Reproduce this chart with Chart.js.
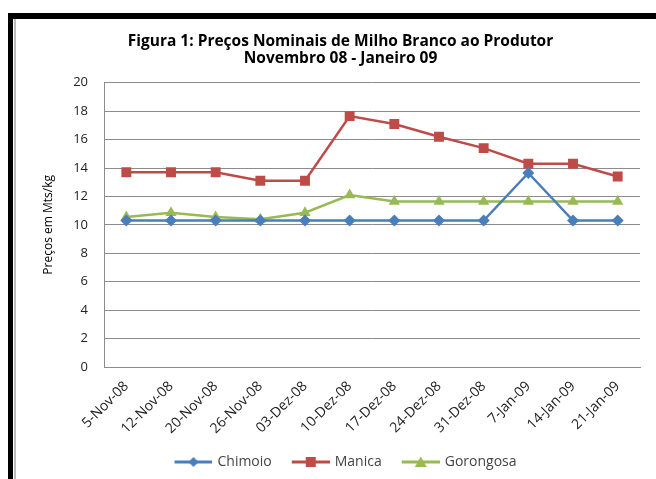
<!DOCTYPE html>
<html>
<head>
<meta charset="utf-8">
<script src="https://cdn.jsdelivr.net/npm/chart.js@4.4.0/dist/chart.umd.min.js"></script>
<style>
    html, body { margin: 0; padding: 0; background: #fff; }
    body { width: 656px; height: 479px; position: relative; overflow: hidden; }
    .frameTop { position: absolute; left: 8px; top: 13px; width: 648px; height: 6px; background: #000; }
    .frameLeft { position: absolute; left: 8px; top: 13px; width: 5px; height: 466px; background: #000; }
    .frameGrey { position: absolute; left: 14px; top: 19px; width: 2px; height: 460px; background: #bbb; }
    #wrap { position: absolute; left: 17px; top: 19px; width: 639px; height: 460px; }
</style>
</head>
<body>
<div class="frameTop"></div>
<div class="frameLeft"></div>
<div class="frameGrey"></div>
<div id="wrap"><canvas id="chartPrecos"></canvas></div>
<script>
// Preços nominais de milho branco ao produtor (Mts/kg)
const datas = ['5-Nov-08', '12-Nov-08', '20-Nov-08', '26-Nov-08', '03-Dez-08', '10-Dez-08',
               '17-Dez-08', '24-Dez-08', '31-Dez-08', '7-Jan-09', '14-Jan-09', '21-Jan-09'];
const chimoio   = [10.3, 10.3, 10.3, 10.3, 10.3, 10.3, 10.3, 10.3, 10.3, 13.65, 10.3, 10.3];
const manica    = [13.7, 13.7, 13.7, 13.1, 13.1, 17.65, 17.1, 16.2, 15.4, 14.3, 14.3, 13.4];
const gorongosa = [10.55, 10.85, 10.55, 10.4, 10.85, 12.1, 11.65, 11.65, 11.65, 11.65, 11.65, 11.65];
const yTicks = [0, 2, 4, 6, 8, 10, 12, 14, 16, 18, 20];

const fonte = "'Open Sans', sans-serif";
const cores = { chimoio: '#4a7ebb', manica: '#be4b48', gorongosa: '#98b954' };

// legenda: linha com o marcador ao meio (desenhada num canvas pequeno)
function legendGlyph(cor, estilo) {
    const c = document.createElement('canvas');
    c.width = 50; c.height = 14;
    const ctx = c.getContext('2d');
    ctx.strokeStyle = cor;
    ctx.fillStyle = cor;
    ctx.lineWidth = 3;
    ctx.beginPath(); ctx.moveTo(12, 7); ctx.lineTo(50, 7); ctx.stroke();
    ctx.beginPath();
    if (estilo === 'rectRot') {
        ctx.moveTo(31, 2); ctx.lineTo(36, 7); ctx.lineTo(31, 12); ctx.lineTo(26, 7);
    } else if (estilo === 'rect') {
        ctx.rect(26, 2, 10, 10);
    } else {
        ctx.moveTo(31, 1.5); ctx.lineTo(37, 12); ctx.lineTo(25, 12);
    }
    ctx.closePath(); ctx.fill();
    return c;
}

function serie(label, data, cor, estilo, raio) {
    return {
        label: label,
        data: data,
        borderColor: cor,
        backgroundColor: cor,
        borderWidth: 2.5,
        pointStyle: estilo,
        pointRadius: raio,
        pointHoverRadius: raio,
        pointBorderWidth: 0,
        tension: 0,
        legendGlyph: legendGlyph(cor, estilo)
    };
}

new Chart(document.getElementById('chartPrecos'), {
    type: 'line',
    data: {
        labels: datas,
        datasets: [
            serie('Chimoio', chimoio, cores.chimoio, 'rectRot', 6),
            serie('Manica', manica, cores.manica, 'rect', 7),
            serie('Gorongosa', gorongosa, cores.gorongosa, 'triangle', 6.5)
        ]
    },
    options: {
        responsive: true,
        maintainAspectRatio: false,
        animation: false,
        layout: { padding: { left: 24, right: 16, top: 14, bottom: 0 } },
        plugins: {
            title: {
                display: true,
                text: ['Figura 1: Preços Nominais de Milho Branco ao Produtor', 'Novembro 08 - Janeiro 09'],
                color: '#000',
                font: { family: fonte, size: 15.5, weight: 'bold', lineHeight: 1.12 },
                padding: { top: 0, bottom: 15 }
            },
            legend: {
                position: 'bottom',
                labels: {
                    color: '#444',
                    font: { family: fonte, size: 14 },
                    usePointStyle: true,
                    pointStyleWidth: 46,
                    padding: 10,
                    generateLabels(chart) {
                        return chart.data.datasets.map((ds, i) => ({
                            text: ds.label,
                            pointStyle: ds.legendGlyph,
                            fillStyle: ds.borderColor,
                            strokeStyle: ds.borderColor,
                            lineWidth: 0,
                            hidden: false,
                            datasetIndex: i,
                            fontColor: '#444'
                        }));
                    }
                }
            },
            tooltip: { enabled: false }
        },
        scales: {
            x: {
                offset: true,
                afterFit(axis) { axis.height = 78; },
                grid: { display: false, drawTicks: false },
                border: { color: '#8c8c8c' },
                ticks: {
                    color: '#222',
                    font: { family: fonte, size: 14 },
                    minRotation: 45,
                    maxRotation: 45,
                    autoSkip: false,
                    padding: 11
                }
            },
            y: {
                min: 0,
                max: 20,
                afterBuildTicks(axis) { axis.ticks = yTicks.map(v => ({ value: v })); },
                afterFit(axis) { axis.width = 63; },
                grid: { color: '#8c8c8c', drawTicks: false },
                border: { color: '#8c8c8c' },
                ticks: {
                    color: '#222',
                    font: { family: fonte, size: 13 },
                    padding: 16
                },
                title: {
                    display: true,
                    text: 'Preços em Mts/kg',
                    color: '#000',
                    font: { family: fonte, size: 12 },
                    padding: { top: 0, bottom: 0 }
                }
            }
        }
    }
});
</script>
</body>
</html>
